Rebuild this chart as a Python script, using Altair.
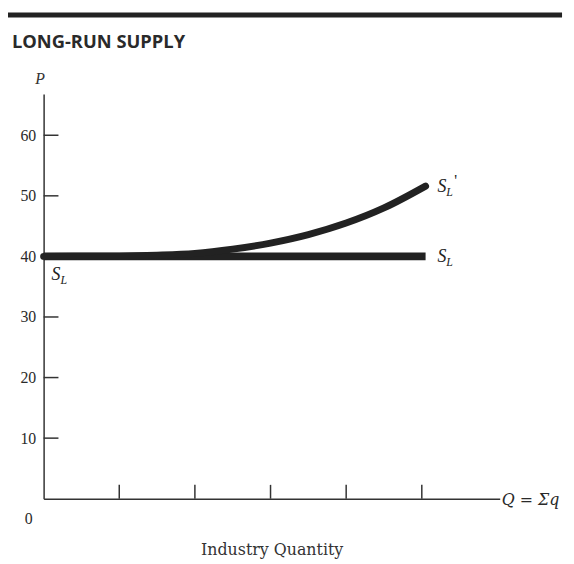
import altair as alt
import pandas as pd

# ---- data ----
q_ticks = [1, 2, 3, 4, 5]
p_ticks = [10, 20, 30, 40, 50, 60]
sl_q = [0, 5.05]
sl_p = [40, 40]
slp_q = [0, 1.0, 1.5, 2.0, 2.5, 3.0, 3.5, 4.0, 4.5, 5.05]
slp_p = [40, 40.05, 40.2, 40.5, 41.2, 42.2, 43.6, 45.5, 48.0, 51.6]
origin_q = [0]
origin_p = [0]

X_DOMAIN = [0, 6.03]
Y_DOMAIN = [0, 66.8]
W, H = 461, 409
INK = "#222222"
SERIF = "Liberation Serif"
WIDE_SERIF = "DejaVu Serif"

xs = alt.Scale(domain=X_DOMAIN, nice=False, zero=False)
ys = alt.Scale(domain=Y_DOMAIN, nice=False)

sl_df = pd.DataFrame({"Q": sl_q, "P": sl_p})
slp_df = pd.DataFrame({"Q": slp_q, "P": slp_p})

x_axis = alt.Axis(title="Industry Quantity", labels=False, ticks=False, grid=False,
                  domainColor="#333", domainWidth=1.5, titleFont=WIDE_SERIF,
                  titleFontSize=16, titleFontWeight="normal", titleColor="#333",
                  titleY=56, titleBaseline="alphabetic")
y_axis = alt.Axis(values=p_ticks, title="P", ticks=False, grid=False,
                  domainColor="#333", domainWidth=1.5,
                  labelFont=SERIF, labelFontSize=16, labelColor="#2a2a2a", labelPadding=8,
                  titleAngle=0, titleX=-4, titleY=-8, titleAlign="center",
                  titleBaseline="bottom", titleFont=SERIF, titleFontStyle="italic",
                  titleFontWeight="normal", titleFontSize=16, titleColor="#333")

X = lambda: alt.X("Q:Q", scale=xs)
Y = lambda: alt.Y("P:Q", scale=ys)

sl = alt.Chart(sl_df).mark_line(color=INK, strokeWidth=8).encode(
    x=alt.X("Q:Q", scale=xs, axis=x_axis),
    y=alt.Y("P:Q", scale=ys, axis=y_axis),
)
slp = alt.Chart(slp_df).mark_line(color=INK, strokeWidth=7, interpolate="monotone",
                                  strokeCap="round").encode(x=X(), y=Y())

ytick = alt.Chart(pd.DataFrame({"P": p_ticks})).mark_rule(color="#333", strokeWidth=1.5).encode(
    y=Y(), x=alt.value(0), x2=alt.value(15))
xtick = alt.Chart(pd.DataFrame({"Q": q_ticks})).mark_rule(color="#333", strokeWidth=1.5).encode(
    x=X(), y=alt.value(H), y2=alt.value(H - 14))

origin = alt.Chart(pd.DataFrame({"Q": origin_q, "P": origin_p, "t": ["0"]})).mark_text(
    font=SERIF, fontSize=16, color="#2a2a2a", dx=-15, dy=21).encode(
    x=X(), y=Y(), text="t:N")

# line labels S_L, S_L'
lab_df = pd.DataFrame({"Q": [sl_q[-1], slp_q[-1], 0], "P": [sl_p[-1], slp_p[-1], 40],
                       "S": ["S", "S", "S"], "L": ["L", "L", "L"]})
ends = lab_df.iloc[:2]
start = lab_df.iloc[2:]

def s_text(df, dx, dy):
    return alt.Chart(df).mark_text(font=SERIF, fontStyle="italic", fontSize=18, color=INK,
                                   align="left", baseline="middle", dx=dx, dy=dy).encode(
        x=X(), y=Y(), text="S:N")

def l_text(df, dx, dy):
    return alt.Chart(df).mark_text(font=SERIF, fontStyle="italic", fontSize=12, color=INK,
                                   align="left", baseline="middle", dx=dx, dy=dy).encode(
        x=X(), y=Y(), text="L:N")

prime = alt.Chart(lab_df.iloc[1:2].assign(pr=["'"])).mark_text(
    font=SERIF, fontSize=16, color=INK, align="left", baseline="middle", dx=29, dy=-5).encode(
    x=X(), y=Y(), text="pr:N")

qlabel = alt.Chart(pd.DataFrame({"t": ["Q = Σq"]})).mark_text(
    font=WIDE_SERIF, fontStyle="italic", fontSize=16, color="#2a2a2a", align="left",
    baseline="middle").encode(x=alt.value(W + 2), y=alt.value(H + 1), text="t:N")

title = alt.Chart(pd.DataFrame({"t": ["LONG-RUN SUPPLY"]})).mark_text(
    font="Open Sans", fontWeight="bold", fontSize=18.5, color="#2a2a2a", align="left",
    baseline="middle").encode(x=alt.value(-32), y=alt.value(-53), text="t:N")

toprule = alt.Chart(pd.DataFrame({"t": [0]})).mark_rule(color="#222", strokeWidth=5).encode(
    x=alt.value(-36), x2=alt.value(524), y=alt.value(-80))

chart = alt.layer(
    sl, toprule, title, ytick, xtick, slp,
    s_text(ends, 12, 1), l_text(ends, 21, 6),
    s_text(start, 8, 19), l_text(start, 17, 24),
    prime, origin, qlabel,
).properties(
    width=W, height=H,
    background="white",
    autosize=alt.AutoSizeParams(type="none"),
    padding={"left": 36, "top": 84, "right": 67, "bottom": 63},
).configure_view(stroke=None).configure_axis(grid=False)

chart.save("out.html", embed_options={"renderer": "svg", "actions": False})
